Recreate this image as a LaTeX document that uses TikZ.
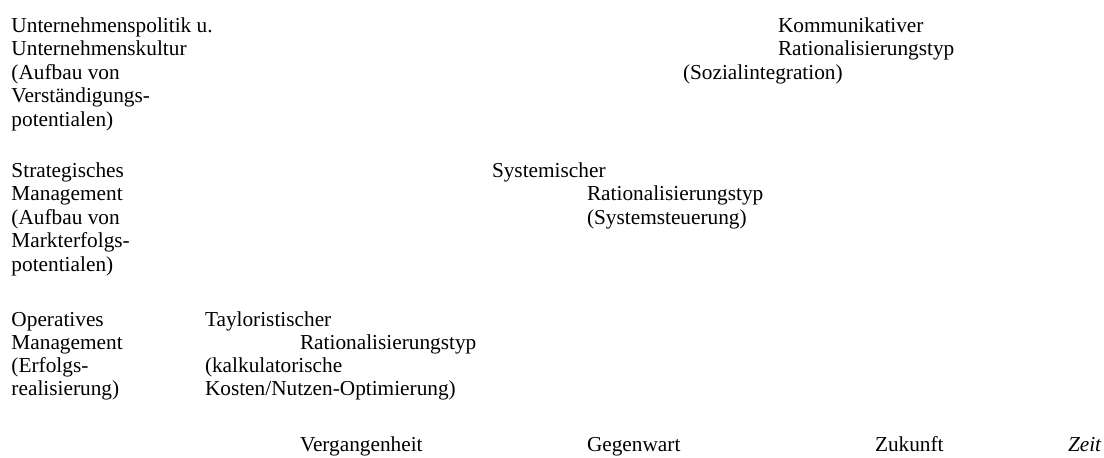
\documentclass[tikz,border=0pt]{standalone}
\usepackage{fontspec}
\setmainfont{Liberation Serif}
\begin{document}
\begin{tikzpicture}[x=1pt,y=-1pt,
  every node/.style={inner sep=0pt,outer sep=0pt,anchor=base west,font=\fontsize{21.3}{24}\selectfont}]
\useasboundingbox (0,0) rectangle (1104,458);
% top left block
\node (a1) at (11.5,32) {Unternehmenspolitik u.};
\node (a2) at (11.5,55.5) {Unternehmenskultur};
\node (a3) at (11.5,79) {(Aufbau von};
\node (a4) at (11.5,102.5) {Verständigungs-};
\node (a5) at (11.5,126) {potentialen)};
% strategic block
\node (b1) at (11.5,177) {Strategisches};
\node (b2) at (11.5,200.5) {Management};
\node (b3) at (11.5,224) {(Aufbau von};
\node (b4) at (11.5,247.5) {Markterfolgs-};
\node (b5) at (11.5,271) {potentialen)};
% operative block
\node (c1) at (11.5,326) {Operatives};
\node (c2) at (11.5,349) {Management};
\node (c3) at (11.5,372) {(Erfolgs-};
\node (c4) at (11.5,395) {realisierung)};
% kommunikativ
\node (k1) at (778,32) {Kommunikativer};
\node (k2) at (778,55.5) {Rationalisierungstyp};
\node (k3) at (683,79) {(Sozialintegration)};
% systemisch
\node (s1) at (492,177) {Systemischer};
\node (s2) at (587,200.5) {Rationalisierungstyp};
\node (s3) at (587,224) {(Systemsteuerung)};
% tayloristisch
\node (t1) at (205,326) {Tayloristischer};
\node (t2) at (300,349) {Rationalisierungstyp};
\node (t3) at (205,372) {(kalkulatorische};
\node (t4) at (205,395) {Kosten/Nutzen-Optimierung)};
% time axis
\node (v) at (300,451) {Vergangenheit};
\node (g) at (587,451) {Gegenwart};
\node (z) at (875,451) {Zukunft};
\node (zt) at (1068,451) {\itshape Zeit};
\end{tikzpicture}
\end{document}
